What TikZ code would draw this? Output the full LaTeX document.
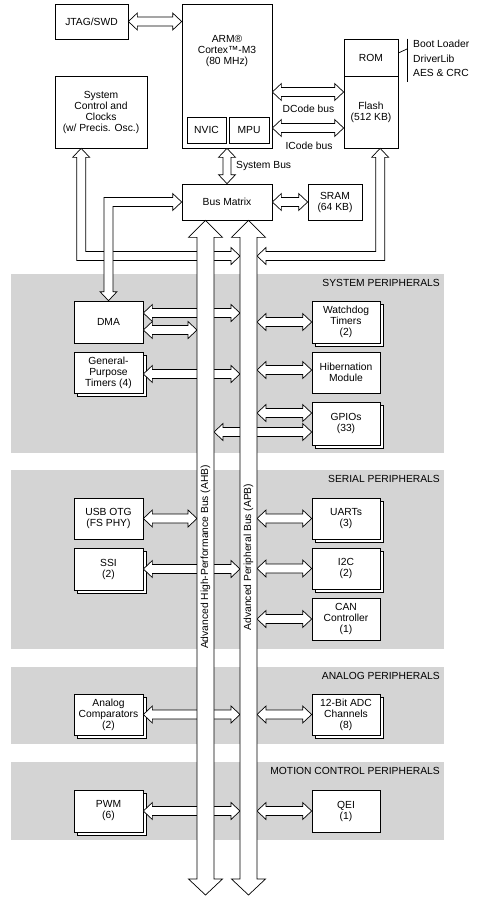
\documentclass[tikz,border=0pt]{standalone}
\usepackage{fontspec}
\setmainfont{Liberation Sans}
\usetikzlibrary{calc,shadows}
\definecolor{bandgray}{RGB}{212,212,212}
\tikzset{
  box/.style={draw, fill=white, align=center, inner sep=0pt, line width=0.7pt},
  sbox/.style={box, general shadow={draw, fill=white, line width=0.7pt, shadow xshift=3pt, shadow yshift=-3pt}},
  barrow/.style={draw, fill=white, line width=0.7pt, line join=miter},
  bandlbl/.style={inner sep=0pt, anchor=east},
  bandbg/.style={fill=bandgray, draw=none},
  lbl/.style={inner sep=0pt},
}
% horizontal double block arrow, y taken from first point
\newcommand\hba[2]{%
  \path[barrow] let \p1=#1, \p2=#2 in
    (\x1,\y1) -- (\x1+9pt,\y1+8.5pt) -- (\x1+9pt,\y1+4.5pt) -- (\x2-9pt,\y1+4.5pt)
    -- (\x2-9pt,\y1+8.5pt) -- (\x2,\y1) -- (\x2-9pt,\y1-8.5pt) -- (\x2-9pt,\y1-4.5pt)
    -- (\x1+9pt,\y1-4.5pt) -- (\x1+9pt,\y1-8.5pt) -- cycle;}
% vertical double block arrow, x taken from first point
\newcommand\vba[2]{%
  \path[barrow] let \p1=#1, \p2=#2 in
    (\x1,\y1) -- (\x1+8.5pt,\y1-9pt) -- (\x1+4pt,\y1-9pt) -- (\x1+4pt,\y2+9pt)
    -- (\x1+8.5pt,\y2+9pt) -- (\x1,\y2) -- (\x1-8.5pt,\y2+9pt) -- (\x1-4pt,\y2+9pt)
    -- (\x1-4pt,\y1-9pt) -- (\x1-8.5pt,\y1-9pt) -- cycle;}
% wide bus arrow
\newcommand\busarrow[2]{%
  \path[barrow] let \p1=#1, \p2=#2 in
    (\x1,\y1) -- (\x1+17pt,\y1-17pt) -- (\x1+8.5pt,\y1-17pt) -- (\x1+8.5pt,\y2+16pt)
    -- (\x1+17pt,\y2+16pt) -- (\x1,\y2) -- (\x1-17pt,\y2+16pt) -- (\x1-8.5pt,\y2+16pt)
    -- (\x1-8.5pt,\y1-17pt) -- (\x1-17pt,\y1-17pt) -- cycle;}
\begin{document}
\begin{tikzpicture}[x=1pt,y=-1pt,font=\fontsize{10.3}{11}\selectfont]
\useasboundingbox (0,0) rectangle (485,902);
% bands
\fill[bandbg] (11,274) rectangle (444,453);
\fill[bandbg] (11,470) rectangle (444,649);
\fill[bandbg] (11,667) rectangle (444,744);
\fill[bandbg] (11,762) rectangle (444,840);
\node[bandlbl] (lsys) at (440,283) {SYSTEM PERIPHERALS};
\node[bandlbl] (lser) at (440,479) {SERIAL PERIPHERALS};
\node[bandlbl] (lana) at (440,676) {ANALOG PERIPHERALS};
\node[bandlbl] (lmot) at (440,771) {MOTION CONTROL PERIPHERALS};
% bus edge coordinates
\coordinate (ahbW) at (197,0);
\coordinate (ahbE) at (214,0);
\coordinate (apbW) at (240,0);
\coordinate (apbE) at (257,0);
% boxes
\node[box, minimum width=73pt, minimum height=35pt] (jtag) at (91.5,21.5) {JTAG/SWD};
\node[box, minimum width=90pt, minimum height=144pt] (arm) at (227,76) {};
\node[lbl, align=center] (armtxt) at (227,51) {ARM®\\Cortex™-M3\\(80 MHz)};
\node[box, minimum width=39pt, minimum height=26pt] (nvic) at (206.5,130) {NVIC};
\node[box, minimum width=40pt, minimum height=26pt] (mpu) at (249,130) {MPU};
\node[box, minimum width=92pt, minimum height=72pt] (sysctl) at (101,112) {System\\Control and\\Clocks\\(w/ Precis. Osc.)};
\node[box, minimum width=54pt, minimum height=37pt] (rom) at (371,57.5) {ROM};
\node[box, minimum width=54pt, minimum height=72pt] (flash) at (371,112) {Flash\\(512 KB)};
\node[box, minimum width=90pt, minimum height=36pt] (busmatrix) at (227,202) {Bus Matrix};
\node[box, minimum width=54pt, minimum height=36pt] (sram) at (335,202) {SRAM\\(64 KB)};
\node[box, minimum width=69pt, minimum height=42pt] (dma) at (108.5,322) {DMA};
\node[sbox, minimum width=69pt, minimum height=41pt] (gpt) at (108.5,372.5) {General-\\Purpose\\Timers (4)};
\node[sbox, minimum width=68pt, minimum height=42pt] (wdt) at (346,322) {Watchdog\\Timers\\(2)};
\node[box, minimum width=68pt, minimum height=41pt] (hib) at (346,372.5) {Hibernation\\Module};
\node[sbox, minimum width=68pt, minimum height=43pt] (gpio) at (346,423.5) {GPIOs\\(33)};
\node[box, minimum width=69pt, minimum height=41pt] (usb) at (108.5,518.5) {USB OTG\\(FS PHY)};
\node[sbox, minimum width=69pt, minimum height=42pt] (ssi) at (108.5,569) {SSI\\(2)};
\node[sbox, minimum width=68pt, minimum height=41pt] (uart) at (346,518.5) {UARTs\\(3)};
\node[sbox, minimum width=68pt, minimum height=41pt] (i2c) at (346,568.5) {I2C\\(2)};
\node[box, minimum width=68pt, minimum height=42pt] (can) at (346,619) {CAN\\Controller\\(1)};
\node[sbox, minimum width=69pt, minimum height=41pt] (acomp) at (108.5,714.5) {Analog\\Comparators\\(2)};
\node[sbox, minimum width=68pt, minimum height=41pt] (adc) at (346,714.5) {12-Bit ADC\\Channels\\(8)};
\node[sbox, minimum width=69pt, minimum height=42pt] (pwm) at (108.5,811) {PWM\\(6)};
\node[box, minimum width=68pt, minimum height=42pt] (qei) at (346,811) {QEI\\(1)};
% ROM bracket
\coordinate (brk) at (407,49);
\draw[line width=0.7pt] (rom.east |- 0,53) -- (brk);
\draw[line width=0.7pt] (brk |- rom.north) -- (407,82);
\node[lbl, anchor=west] (boot) at (413,44) {Boot Loader};
\node[lbl, anchor=west] (drvlib) at (413,58.5) {DriverLib};
\node[lbl, anchor=west] (aes) at (413,73) {AES \& CRC};
% top arrows
\hba{(jtag.east)}{(arm.west)}
\hba{(arm.east |- 0,92)}{(flash.west)}
\hba{(arm.east |- 0,128)}{(flash.west)}
\node[lbl] (dcode) at (308.5,109) {DCode bus};
\node[lbl] (icode) at (309,146) {ICode bus};
\vba{(arm.south)}{(busmatrix.north)}
\node[lbl, anchor=west] (sysbus) at (236,166) {System Bus};
\hba{(busmatrix.east)}{(sram.west)}
% peripheral arrows
\hba{(dma.east |- 0,313)}{(apbW)}
\hba{(dma.east |- 0,330)}{(ahbW)}
\hba{(gpt.east |- 0,374)}{(apbW)}
\hba{(apbE |- wdt.west)}{(wdt.west)}
\hba{(apbE |- 0,370)}{(hib.west)}
\hba{(apbE |- 0,413)}{(gpio.west)}
\hba{(ahbE |- 0,432)}{(gpio.west)}
\hba{(usb.east)}{(ahbW)}
\hba{(ssi.east)}{(apbW)}
\hba{(apbE |- uart.west)}{(uart.west)}
\hba{(apbE |- i2c.west)}{(i2c.west)}
\hba{(apbE |- can.west)}{(can.west)}
\hba{(acomp.east)}{(apbW)}
\hba{(apbE |- adc.west)}{(adc.west)}
\hba{(pwm.east)}{(apbW)}
\hba{(apbE |- qei.west)}{(qei.west)}
% system control L arrow
\path[barrow] let \p1=($(sysctl.south west)+(26.5,0)$), \p2=(apbW |- 0,256) in
  (\x1,\y1) -- (\x1+8.5pt,\y1-9pt) -- (\x1+4.5pt,\y1-9pt) -- (\x1+4.5pt,\y2+4.5pt)
  -- (\x2-9pt,\y2+4.5pt) -- (\x2-9pt,\y2+8.5pt) -- (\x2,\y2) -- (\x2-9pt,\y2-8.5pt)
  -- (\x2-9pt,\y2-4.5pt) -- (\x1-4.5pt,\y2-4.5pt) -- (\x1-4.5pt,\y1-9pt) -- (\x1-8.5pt,\y1-9pt) -- cycle;
% flash L arrow
\path[barrow] let \p1=($(flash.south west)+(36.5,0)$), \p2=(apbE |- 0,256) in
  (\x1,\y1) -- (\x1+8.5pt,\y1-9pt) -- (\x1+4.5pt,\y1-9pt) -- (\x1+4.5pt,\y2-4.5pt)
  -- (\x2+9pt,\y2-4.5pt) -- (\x2+9pt,\y2-8.5pt) -- (\x2,\y2) -- (\x2+9pt,\y2+8.5pt)
  -- (\x2+9pt,\y2+4.5pt) -- (\x1-4.5pt,\y2+4.5pt) -- (\x1-4.5pt,\y1-9pt) -- (\x1-8.5pt,\y1-9pt) -- cycle;
% DMA L arrow
\path[barrow] let \p1=(busmatrix.west), \p2=(dma.north) in
  (\x1,\y1) -- (\x1-9pt,\y1+8.5pt) -- (\x1-9pt,\y1+4.5pt) -- (\x2-4.5pt,\y1+4.5pt)
  -- (\x2-4.5pt,\y2+9pt) -- (\x2-8.5pt,\y2+9pt) -- (\x2,\y2) -- (\x2+8.5pt,\y2+9pt)
  -- (\x2+4.5pt,\y2+9pt) -- (\x2+4.5pt,\y1-4.5pt) -- (\x1-9pt,\y1-4.5pt) -- (\x1-9pt,\y1-8.5pt) -- cycle;
% buses
\coordinate (ahbT) at (busmatrix.south -| 205.5,0);
\coordinate (ahbB) at (205.5,895);
\coordinate (apbT) at (busmatrix.south -| 248.5,0);
\coordinate (apbB) at (248.5,895);
\busarrow{(ahbT)}{(ahbB)}
\busarrow{(apbT)}{(apbB)}
\node[lbl, rotate=90] (ahblbl) at (205.5,557) {Advanced High-Performance Bus (AHB)};
\node[lbl, rotate=90] (apblbl) at (248.5,557) {Advanced Peripheral Bus (APB)};
\end{tikzpicture}
\end{document}
